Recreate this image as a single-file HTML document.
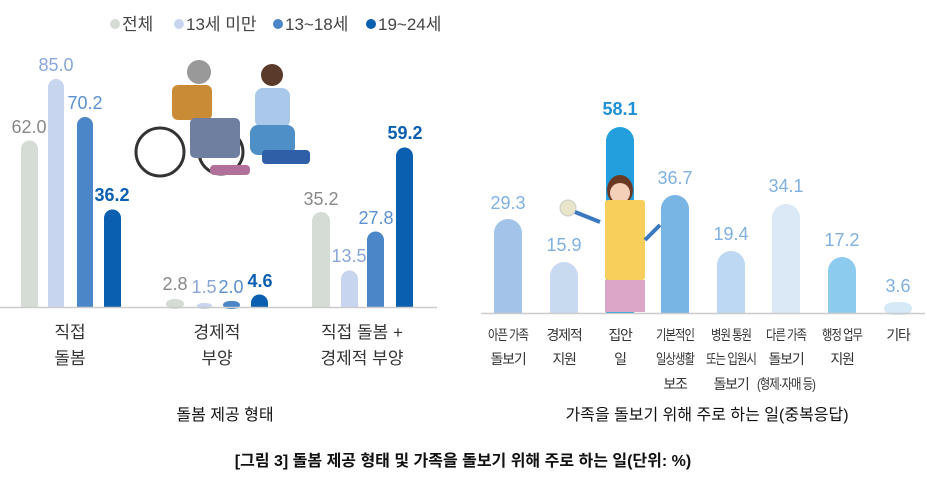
<!DOCTYPE html>
<html><head><meta charset="utf-8"><style>
body{margin:0;background:#fff;}
svg text{font-family:"Liberation Sans","Noto Sans CJK KR",sans-serif;}
svg .n{font-family:"Liberation Sans Narrow","Liberation Sans","Noto Sans CJK KR",sans-serif;font-stretch:condensed;}
</style></head><body>
<svg width="927" height="475" viewBox="0 0 927 475" xmlns="http://www.w3.org/2000/svg">
<!-- legend -->
<g font-size="17" fill="#444">
<circle cx="115" cy="24" r="5" fill="#d5dbd5"/><text x="122" y="30">전체</text>
<circle cx="179" cy="24" r="5" fill="#c7d5ee"/><text x="186" y="30">13세 미만</text>
<circle cx="278" cy="24" r="5" fill="#4a86c8"/><text x="285" y="30">13~18세</text>
<circle cx="371" cy="24" r="5" fill="#0a5fb0"/><text x="378" y="30">19~24세</text>
</g>
<!-- left bars -->
<g>
<path d="M21,307V149a8.5,8.5 0 0 1 17,0V307Z" fill="#d5dbd5"/>
<path d="M48,307V87a8,8 0 0 1 16,0V307Z" fill="#c7d5ee"/>
<path d="M77,307V125a8,8 0 0 1 16,0V307Z" fill="#4a86c8"/>
<path d="M104,307V218a8.5,8.5 0 0 1 17,0V307Z" fill="#0a5fb0"/>
<rect x="166" y="299" width="18" height="10" rx="8" fill="#d5dbd5"/>
<rect x="197" y="303" width="15" height="6" rx="6" fill="#c7d5ee"/>
<rect x="223" y="301" width="17" height="8" rx="7" fill="#4a86c8"/>
<path d="M251,307V303a8.5,8.5 0 0 1 17,0V307Z" fill="#0a5fb0"/>
<path d="M312,307V221a9,9 0 0 1 18,0V307Z" fill="#d5dbd5"/>
<path d="M341,307V279a8.5,8.5 0 0 1 17,0V307Z" fill="#c7d5ee"/>
<path d="M367,307V240a8.5,8.5 0 0 1 17,0V307Z" fill="#4a86c8"/>
<path d="M396,307V156a8.5,8.5 0 0 1 17,0V307Z" fill="#0a5fb0"/>
<line x1="0" y1="307.5" x2="437" y2="307.5" stroke="#ccc" stroke-width="1.5"/>
</g>
<g font-size="18" text-anchor="middle" class="n">
<text x="29" y="133" fill="#888">62.0</text>
<text x="56" y="71" fill="#8aa5d8">85.0</text>
<text x="85" y="109" fill="#5b90d0">70.2</text>
<text x="112" y="201" fill="#0a5fb0" font-weight="bold">36.2</text>
<text x="175" y="290" fill="#888">2.8</text>
<text x="204" y="293" fill="#8aa5d8">1.5</text>
<text x="231" y="293" fill="#5b90d0">2.0</text>
<text x="260" y="287" fill="#0a5fb0" font-weight="bold">4.6</text>
<text x="321" y="205" fill="#888">35.2</text>
<text x="349" y="262" fill="#8aa5d8">13.5</text>
<text x="376" y="224" fill="#5b90d0">27.8</text>
<text x="405" y="139" fill="#0a5fb0" font-weight="bold">59.2</text>
</g>
<g font-size="17" text-anchor="middle" fill="#333">
<text x="70" y="338">직접</text><text x="70" y="364">돌봄</text>
<text x="217" y="338">경제적</text><text x="217" y="364">부양</text>
<text x="362" y="338">직접 돌봄 +</text><text x="362" y="364">경제적 부양</text>
</g>
<!-- left illustration (approx) -->
<g>
<circle cx="160" cy="152" r="24" fill="none" stroke="#333" stroke-width="3"/>
<circle cx="221" cy="152" r="22" fill="none" stroke="#333" stroke-width="3"/>
<rect x="172" y="85" width="40" height="35" rx="6" fill="#c98b35"/>
<rect x="190" y="118" width="50" height="40" rx="5" fill="#6f7fa0"/>
<circle cx="199" cy="72" r="12" fill="#999"/>
<circle cx="272" cy="75" r="11" fill="#5a3a2a"/>
<rect x="255" y="88" width="35" height="40" rx="8" fill="#a9c8ea"/>
<rect x="250" y="125" width="45" height="30" rx="8" fill="#4d8fc6"/>
<rect x="262" y="150" width="48" height="14" rx="4" fill="#2f5fa6"/>
<rect x="210" y="165" width="40" height="10" rx="4" fill="#b0709a"/>
</g>
<!-- right bars -->
<g>
<path d="M494,313V233a14,14 0 0 1 28,0V313Z" fill="#a3c3e8"/>
<path d="M550,313V276a14,14 0 0 1 28,0V313Z" fill="#c8daf0"/>
<path d="M606,313V141a14,14 0 0 1 28,0V313Z" fill="#229fdc"/>
<path d="M661,313V209a14,14 0 0 1 28,0V313Z" fill="#78b4e4"/>
<path d="M717,313V265a14,14 0 0 1 28,0V313Z" fill="#bcd8f2"/>
<path d="M772,313V218a14,14 0 0 1 28,0V313Z" fill="#dbe9f7"/>
<path d="M828,313V271a14,14 0 0 1 28,0V313Z" fill="#8ccbee"/>
<rect x="884" y="302" width="28" height="13" rx="10" fill="#d5e9f7"/>
<line x1="481" y1="313.5" x2="925" y2="313.5" stroke="#ccc" stroke-width="1.5"/>
</g>
<!-- woman -->
<g>
<ellipse cx="620" cy="190" rx="13" ry="15" fill="#6a3a25"/>
<circle cx="620" cy="193" r="10" fill="#f5d0b8"/>
<rect x="605" y="200" width="40" height="80" rx="3" fill="#f8cf5a"/>
<rect x="605" y="280" width="40" height="32" fill="#dca6c9"/>
<circle cx="568" cy="208" r="8" fill="#e8e6c8" stroke="#ccc"/>
<line x1="575" y1="212" x2="600" y2="222" stroke="#3a78c0" stroke-width="4"/>
<line x1="645" y1="240" x2="660" y2="225" stroke="#3a78c0" stroke-width="4"/>
</g>
<g font-size="18" text-anchor="middle" fill="#7fb0e0">
<text x="508" y="209">29.3</text>
<text x="564" y="251">15.9</text>
<text x="620" y="115" fill="#1f8fd6" font-weight="bold">58.1</text>
<text x="675" y="184">36.7</text>
<text x="731" y="240">19.4</text>
<text x="786" y="192">34.1</text>
<text x="842" y="246">17.2</text>
<text x="898" y="292">3.6</text>
</g>
<g font-size="14" text-anchor="middle" fill="#333" class="n" letter-spacing="-1.2">
<text x="508" y="340" textLength="40" lengthAdjust="spacingAndGlyphs">아픈 가족</text><text x="508" y="364">돌보기</text>
<text x="564" y="340">경제적</text><text x="564" y="364">지원</text>
<text x="620" y="340">집안</text><text x="620" y="364">일</text>
<text x="675" y="340" textLength="38" lengthAdjust="spacingAndGlyphs">기본적인</text><text x="675" y="364" textLength="38" lengthAdjust="spacingAndGlyphs">일상생활</text><text x="675" y="389">보조</text>
<text x="731" y="340" textLength="40" lengthAdjust="spacingAndGlyphs">병원 통원</text><text x="731" y="364" textLength="50" lengthAdjust="spacingAndGlyphs">또는 입원시</text><text x="731" y="389">돌보기</text>
<text x="786" y="340" textLength="40" lengthAdjust="spacingAndGlyphs">다른 가족</text><text x="786" y="364">돌보기</text><text x="786" y="389" textLength="58" lengthAdjust="spacingAndGlyphs">(형제·자매 등)</text>
<text x="842" y="340" textLength="40" lengthAdjust="spacingAndGlyphs">행정 업무</text><text x="842" y="364">지원</text>
<text x="898" y="340">기타</text>
</g>
<g font-size="16" text-anchor="middle" fill="#111">
<text x="225" y="420">돌봄 제공 형태</text>
<text x="707" y="420">가족을 돌보기 위해 주로 하는 일(중복응답)</text>
<text x="463" y="466" font-weight="bold">[그림 3] 돌봄 제공 형태 및 가족을 돌보기 위해 주로 하는 일(단위: %)</text>
</g>
</svg>
</body></html>
